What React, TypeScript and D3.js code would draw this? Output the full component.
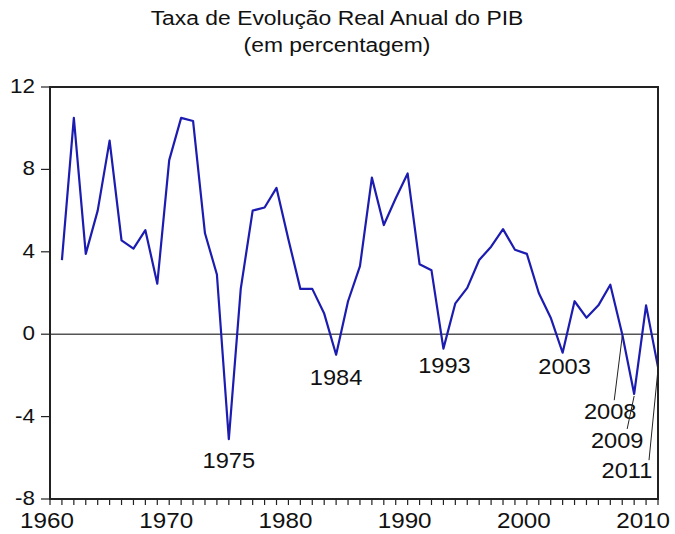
import React from "react";
import * as d3 from "d3";

const years: number[] = d3.range(1961, 2012);
const growth: number[] = [
  3.6, 10.5, 3.9, 6.0, 9.4, 4.55, 4.15, 5.05, 2.45, 8.45,
  10.5, 10.35, 4.9, 2.9, -5.1, 2.2, 6.0, 6.15, 7.1, 4.6,
  2.2, 2.2, 1.0, -1.0, 1.6, 3.3, 7.6, 5.3, 6.6, 7.8,
  3.4, 3.1, -0.7, 1.5, 2.25, 3.6, 4.25, 5.1, 4.1, 3.9,
  2.0, 0.8, -0.9, 1.6, 0.8, 1.4, 2.4, 0.0, -2.9, 1.4,
  -1.6,
];
const yTicks: number[] = [-8, -4, 0, 4, 8, 12];
const xTickLabels: number[] = [1960, 1970, 1980, 1990, 2000, 2010];
const annotatedYears: number[] = [1975, 1984, 1993, 2003, 2008, 2009, 2011];
const titleLines: string[] = ["Taxa de Evolução Real Anual do PIB", "(em percentagem)"];

// label placement relative to the point (dx, dy for baseline), leader target offsets
const labelOffsets: Record<number, { dx: number; dy: number; leader?: [number, number] }> = {
  1975: { dx: 0, dy: 29 },
  1984: { dx: 0, dy: 30 },
  1993: { dx: 1, dy: 24 },
  2003: { dx: 2, dy: 21 },
  2008: { dx: -12, dy: 85, leader: [-8, 66] },
  2009: { dx: -17, dy: 54, leader: [-7, 35] },
  2011: { dx: -31, dy: 111, leader: [-9, 93] },
};

const W = 675;
const H = 534;
const left = 50;
const right = 658;
const top = 87;
const bottom = 499;
const FONT = "'Liberation Sans', Arial, Helvetica, sans-serif";

function SText(props: {
  x: number;
  y: number;
  size: number;
  sx: number;
  anchor: "start" | "middle" | "end";
  children: React.ReactNode;
}) {
  return (
    <text
      transform={`translate(${props.x},${props.y}) scale(${props.sx},1)`}
      textAnchor={props.anchor}
      fontSize={props.size}
      fill="#111"
    >
      {props.children}
    </text>
  );
}

export default function App() {
  const x = d3.scaleLinear().domain([1960, 2011]).range([left, right]);
  const y = d3.scaleLinear().domain([-8, 12]).range([bottom, top]);
  const line = d3
    .line<number>()
    .x((_, i) => x(years[i]))
    .y((d) => y(d));
  const minorYears = d3.range(1960, 2012);

  return (
    <svg
      width={W}
      height={H}
      style={{ position: "absolute", left: 0, top: 0, background: "#fff" }}
      fontFamily={FONT}
    >
      <rect x={0} y={0} width={W} height={H} fill="#fff" />
      {titleLines.map((t, i) => (
        <SText key={t} x={337} y={25 + i * 27} size={21} sx={1.09} anchor="middle">
          {t}
        </SText>
      ))}
      {/* zero line */}
      <line x1={left} x2={right} y1={y(0)} y2={y(0)} stroke="#555" strokeWidth={1.5} />
      {/* series */}
      <path d={line(growth) || ""} fill="none" stroke="#1c1cb0" strokeWidth={2.2} strokeLinejoin="round" />
      {/* frame */}
      <rect x={left} y={top} width={right - left} height={bottom - top} fill="none" stroke="#222" strokeWidth={2} />
      {/* y ticks */}
      {yTicks.map((v) => (
        <g key={v}>
          <line x1={left - 9} x2={left} y1={y(v)} y2={y(v)} stroke="#222" strokeWidth={1.2} />
          <SText x={left - 15} y={y(v) + 6} size={19.5} sx={1.15} anchor="end">
            {v}
          </SText>
        </g>
      ))}
      {/* x ticks */}
      {minorYears.map((yr) => (
        <line key={yr} x1={x(yr)} x2={x(yr)} y1={bottom} y2={bottom + 6} stroke="#222" strokeWidth={1.2} />
      ))}
      {xTickLabels.map((yr) => (
        <SText key={yr} x={x(yr) - 3} y={bottom + 29} size={22} sx={1.1} anchor="middle">
          {yr}
        </SText>
      ))}
      {/* annotations */}
      {annotatedYears.map((yr) => {
        const i = years.indexOf(yr);
        const px = x(yr);
        const py = y(growth[i]);
        const o = labelOffsets[yr];
        return (
          <g key={yr}>
            {o.leader && (
              <line
                x1={px}
                y1={py + 2}
                x2={px + o.leader[0]}
                y2={py + o.leader[1]}
                stroke="#222"
                strokeWidth={1}
              />
            )}
            <SText x={px + o.dx} y={py + o.dy} size={22.5} sx={1.05} anchor="middle">
              {yr}
            </SText>
          </g>
        );
      })}
    </svg>
  );
}
